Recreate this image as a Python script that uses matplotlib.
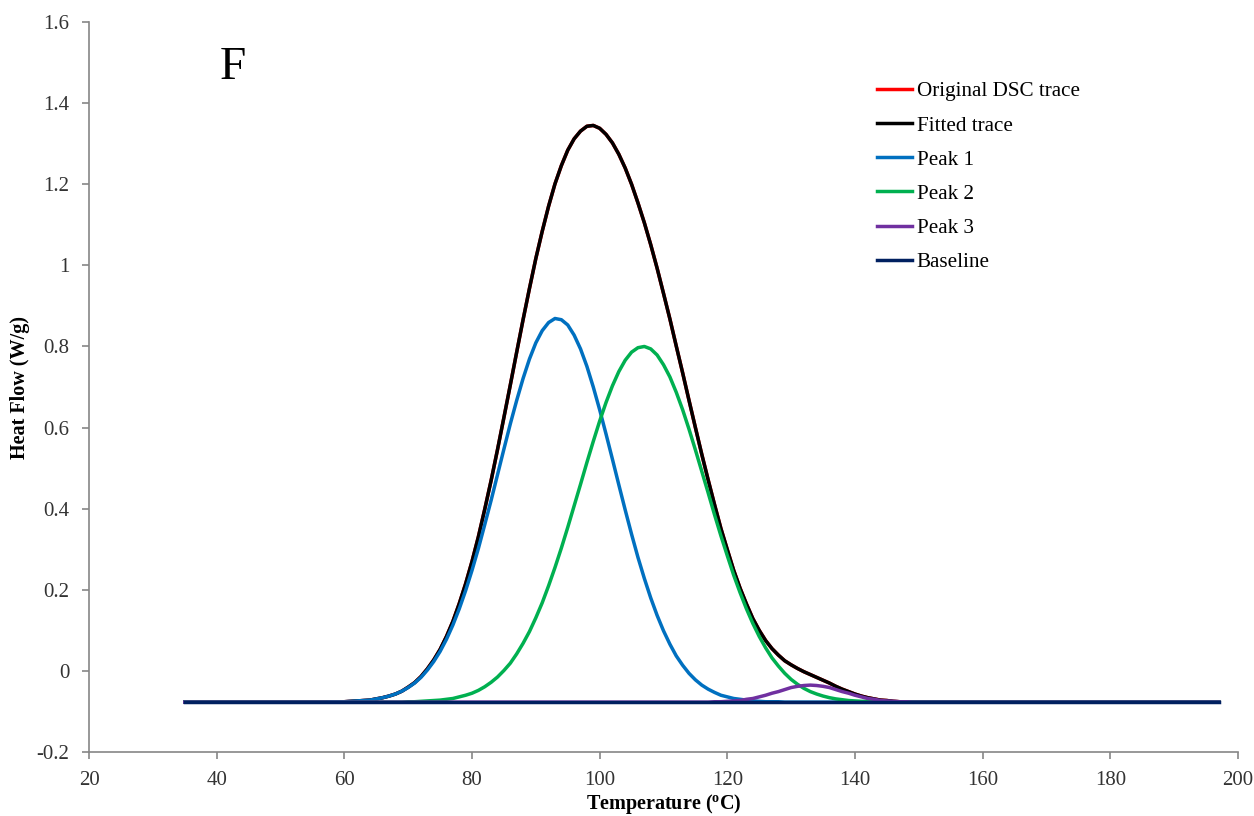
import matplotlib.pyplot as plt

# temperature grid (deg C): 1 degree steps across the peaks, plus the ends of the scan
temps = [35] + list(range(56, 151)) + [197]

# values, 56..150 C in rows of ten degrees
fitted = ([-0.077]
          + [-0.077, -0.077, -0.076, -0.076, -0.076, -0.075, -0.074, -0.073, -0.072, -0.069]
          + [-0.066, -0.062, -0.057, -0.050, -0.040, -0.029, -0.014, 0.005, 0.027, 0.053]
          + [0.085, 0.122, 0.166, 0.215, 0.270, 0.331, 0.399, 0.470, 0.546, 0.625]
          + [0.705, 0.786, 0.866, 0.943, 1.017, 1.084, 1.146, 1.201, 1.246, 1.284]
          + [1.312, 1.331, 1.343, 1.345, 1.338, 1.323, 1.302, 1.274, 1.240, 1.200]
          + [1.154, 1.105, 1.051, 0.993, 0.931, 0.868, 0.801, 0.735, 0.667, 0.600]
          + [0.534, 0.471, 0.410, 0.351, 0.299, 0.248, 0.204, 0.165, 0.129, 0.100]
          + [0.075, 0.055, 0.039, 0.025, 0.015, 0.006, -0.002, -0.009, -0.016, -0.023]
          + [-0.030, -0.038, -0.045, -0.051, -0.057, -0.062, -0.066, -0.069, -0.072, -0.073]
          + [-0.075, -0.076, -0.076, -0.077, -0.077]
          + [-0.077])
original = list(fitted)  # hidden right under the fitted trace

peak1 = ([-0.077]
         + [-0.077, -0.077, -0.076, -0.076, -0.076, -0.075, -0.074, -0.073, -0.072, -0.069]
         + [-0.066, -0.062, -0.057, -0.050, -0.041, -0.030, -0.016, 0.002, 0.023, 0.048]
         + [0.078, 0.113, 0.153, 0.198, 0.248, 0.302, 0.361, 0.421, 0.484, 0.547]
         + [0.609, 0.667, 0.721, 0.769, 0.809, 0.839, 0.859, 0.869, 0.866, 0.853]
         + [0.828, 0.794, 0.751, 0.700, 0.644, 0.584, 0.522, 0.459, 0.397, 0.337]
         + [0.280, 0.228, 0.180, 0.137, 0.099, 0.066, 0.037, 0.014, -0.006, -0.022]
         + [-0.035, -0.045, -0.053, -0.060, -0.064, -0.068, -0.070, -0.072, -0.074, -0.075]
         + [-0.076, -0.076, -0.076, -0.077, -0.077, -0.077, -0.077, -0.077, -0.077, -0.077]
         + [-0.077] * 10
         + [-0.077] * 5
         + [-0.077])

peak2 = ([-0.077]
         + [-0.077] * 10
         + [-0.077, -0.077, -0.077, -0.077, -0.076, -0.076, -0.075, -0.074, -0.073, -0.072]
         + [-0.070, -0.068, -0.064, -0.060, -0.055, -0.048, -0.039, -0.028, -0.015, 0.001]
         + [0.019, 0.042, 0.068, 0.097, 0.131, 0.168, 0.210, 0.255, 0.303, 0.354]
         + [0.407, 0.460, 0.514, 0.566, 0.616, 0.662, 0.703, 0.738, 0.766, 0.786]
         + [0.797, 0.800, 0.794, 0.779, 0.755, 0.725, 0.687, 0.644, 0.596, 0.545]
         + [0.492, 0.439, 0.385, 0.333, 0.284, 0.236, 0.193, 0.153, 0.117, 0.085]
         + [0.057, 0.032, 0.012, -0.006, -0.021, -0.033, -0.043, -0.051, -0.057, -0.062]
         + [-0.066, -0.069, -0.071, -0.073, -0.074, -0.075, -0.075, -0.076, -0.076, -0.076]
         + [-0.077] * 5
         + [-0.077])

peak3 = ([-0.077]
         + [-0.077] * 60
         + [-0.077, -0.077, -0.076, -0.076, -0.075, -0.074, -0.073, -0.070, -0.068, -0.064]
         + [-0.060, -0.055, -0.051, -0.046, -0.041, -0.038, -0.036, -0.035, -0.036, -0.038]
         + [-0.041, -0.046, -0.051, -0.055, -0.060, -0.064, -0.068, -0.070, -0.073, -0.074]
         + [-0.075, -0.076, -0.076, -0.077, -0.077]
         + [-0.077])

baseline_x = [35, 197]
baseline_y = [-0.077, -0.077]

y_ticks = [-0.2, 0, 0.2, 0.4, 0.6, 0.8, 1, 1.2, 1.4, 1.6]
y_labels = ['-0.2', '0', '0.2', '0.4', '0.6', '0.8', '1', '1.2', '1.4', '1.6']
x_ticks = [20, 40, 60, 80, 100, 120, 140, 160, 180, 200]

plt.rcParams['font.family'] = ['Liberation Serif', 'DejaVu Serif']

fig = plt.figure(figsize=(12.54, 8.16), dpi=100)
ax = fig.add_axes([0.0710, 0.0784, 0.9162, 0.8946])

lw = 2.5
ax.plot(temps, original, color='#FF0000', lw=lw, label='Original DSC trace')
ax.plot(temps, fitted, color='#000000', lw=lw, label='Fitted trace')
ax.plot(temps, peak1, color='#0070C0', lw=lw, label='Peak 1')
ax.plot(temps, peak2, color='#00B050', lw=lw, label='Peak 2')
ax.plot(temps, peak3, color='#7030A0', lw=lw, label='Peak 3')
ax.plot(baseline_x, baseline_y, color='#002060', lw=lw, label='Baseline')

ax.set_xlim(20, 200)
ax.set_ylim(-0.2, 1.6)
ax.set_xticks(x_ticks)
ax.set_yticks(y_ticks)
ax.set_yticklabels(y_labels)

for side in ['top', 'right']:
    ax.spines[side].set_visible(False)
for side in ['left', 'bottom']:
    ax.spines[side].set_color('#868686')
    ax.spines[side].set_linewidth(1.2)
ax.tick_params(direction='out', length=5, width=1.2, color='#868686',
               labelsize=15, labelcolor='#333333', pad=9)

ax.set_xlabel('Temperature ($\\mathregular{^{o}}$C)', fontsize=14.5,
              fontweight='bold', labelpad=1)
ax.set_ylabel('Heat Flow (W/g)', fontsize=14.5, fontweight='bold', labelpad=5)

ax.text(40.5, 1.459, 'F', fontsize=34, color='black', va='baseline', ha='left')

ax.legend(loc='upper left', bbox_to_anchor=(0.699, 0.900),
          bbox_transform=fig.transFigure, frameon=False, fontsize=15.2,
          handlelength=1.7, handletextpad=0.2, labelspacing=0.68,
          borderpad=0, borderaxespad=0)

fig.savefig('out.png', dpi=100)
